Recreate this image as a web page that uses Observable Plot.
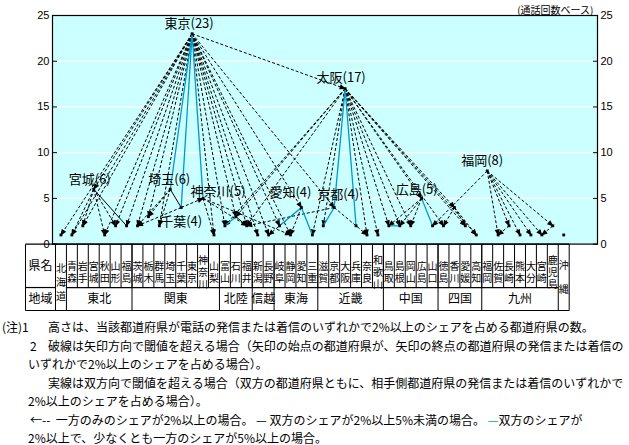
<!DOCTYPE html>
<html><head><meta charset="utf-8">
<script src="https://cdn.jsdelivr.net/npm/d3@7"></script>
<script src="https://cdn.jsdelivr.net/npm/@observablehq/plot@0.6"></script>
<style>
body{margin:0;background:#fff;font-family:"Noto Sans CJK JP",sans-serif;}
#wrap{position:relative;width:629px;height:445px;overflow:hidden;}
#chart{position:absolute;left:0;top:0;}
.note{position:absolute;font-size:12px;white-space:nowrap;line-height:14px;color:#000;}
</style></head>
<body><div id="wrap"><div id="chart"></div>
<div class="note" style="left:2px;top:320px">(注)1</div>
<div class="note" style="left:48px;top:320px">高さは、当該都道府県が電話の発信または着信のいずれかで2%以上のシェアを占める都道府県の数。</div>
<div class="note" style="left:30px;top:339px">2</div>
<div class="note" style="left:48px;top:339px">破線は矢印方向で閾値を超える場合（矢印の始点の都道府県が、矢印の終点の都道府県の発信または着信の</div>
<div class="note" style="left:28px;top:357px">いずれかで2%以上のシェアを占める場合）。</div>
<div class="note" style="left:48px;top:376px">実線は双方向で閾値を超える場合（双方の都道府県ともに、相手側都道府県の発信または着信のいずれかで</div>
<div class="note" style="left:28px;top:394px">2%以上のシェアを占める場合）。</div>
<div class="note" style="left:30px;top:413px">←-- &nbsp;一方のみのシェアが2%以上の場合。 <span>—</span> 双方のシェアが2%以上5%未満の場合。 <span style="color:#0099cc">—</span>双方のシェアが</div>
<div class="note" style="left:28px;top:431px">2%以上で、少なくとも一方のシェアが5%以上の場合。</div>
</div>
<script>
// ---- data ----
const prefs = ["北海道","青森","岩手","宮城","秋田","山形","福島","茨城","栃木","群馬","埼玉","千葉","東京","神奈川","山梨","富山","石川","福井","新潟","長野","岐阜","静岡","愛知","三重","滋賀","京都","大阪","兵庫","奈良","和歌山","鳥取","島根","岡山","広島","山口","徳島","香川","愛媛","高知","福岡","佐賀","長崎","熊本","大分","宮崎","鹿児島","沖縄"];
const heights = [1,1,2,6,1,2,2,2,3,2,6,4,23,5,1,2,3,2,1,1,2,1,4,1,2,4,17,2,1,1,2,2,2,5,2,2,4,2,1,8,1,2,1,1,1,2,1];
const regionNames = ["東北","関東","北陸","信越","東海","近畿","中国","四国","九州"];
const regionFirst = ["青森","茨城","富山","新潟","岐阜","滋賀","鳥取","徳島","福岡"];
const regionLast  = ["福島","山梨","福井","長野","三重","和歌山","山口","高知","鹿児島"];
const mergedPrefs = ["北海道","沖縄"];
const labelNames = ["東京","太阪","福岡","宮城","埼玉","神奈川","千葉","愛知","京都","広島"];
const labelPrefs = ["東京","大阪","福岡","宮城","埼玉","神奈川","千葉","愛知","京都","広島"];
const yTicks = [0,5,10,15,20,25];
// dashed: one-way arrows [from, to]
const dashedEdges = [
 ["東京","北海道"],["東京","青森"],["東京","岩手"],["東京","宮城"],["東京","秋田"],["東京","山形"],["東京","福島"],["東京","茨城"],["東京","栃木"],["東京","群馬"],
 ["東京","山梨"],["東京","富山"],["東京","石川"],["東京","福井"],["東京","新潟"],["東京","長野"],["東京","岐阜"],["東京","静岡"],["東京","愛知"],["東京","京都"],["東京","大阪"],
 ["宮城","青森"],["宮城","岩手"],["宮城","秋田"],["宮城","山形"],
 ["埼玉","茨城"],["埼玉","栃木"],["埼玉","群馬"],["千葉","茨城"],["千葉","神奈川"],
 ["神奈川","山梨"],["神奈川","福井"],["神奈川","静岡"],
 ["愛知","長野"],["愛知","静岡"],["京都","奈良"],["京都","福井"],
 ["大阪","富山"],["大阪","石川"],["大阪","福井"],["大阪","滋賀"],["大阪","奈良"],["大阪","和歌山"],["大阪","三重"],["大阪","鳥取"],["大阪","島根"],["大阪","岡山"],["大阪","広島"],["大阪","徳島"],["大阪","香川"],["大阪","愛媛"],["大阪","高知"],
 ["広島","鳥取"],["広島","島根"],["広島","岡山"],["香川","徳島"],["香川","愛媛"],["香川","高知"],
 ["福岡","山口"],["福岡","佐賀"],["福岡","長崎"],["福岡","熊本"],["福岡","大分"],["福岡","宮崎"],["福岡","鹿児島"],
 ["長崎","佐賀"],["鹿児島","宮崎"]
];
const solidEdges = [["宮城","福島"],["埼玉","千葉"],["石川","福井"]];
const blueEdges = [["東京","埼玉"],["東京","千葉"],["東京","神奈川"],["富山","石川"],["岐阜","愛知"],["愛知","三重"],["大阪","京都"],["京都","滋賀"],["大阪","兵庫"],["鳥取","島根"],["広島","山口"]];

// ---- derived tables ----
const idx = new Map(prefs.map((p,i)=>[p,i]));
const nodes = prefs.map((p,i)=>({name:p,i,h:heights[i]}));
const edgeRows = list => list.map(([a,b])=>({x1:idx.get(a),y1:heights[idx.get(a)],x2:idx.get(b),y2:heights[idx.get(b)]}));
const N = prefs.length;
const L = -3.245;             // left edge of the 県名 column (index units)
const R1 = -4.75, R2 = -7.26; // table row boundaries (value units)
const e = i => i - 0.5;

function arrowHead(color){
  const ns="http://www.w3.org/2000/svg";
  const m=document.createElementNS(ns,"marker");
  m.setAttribute("viewBox","-6 -3 7 6");
  m.setAttribute("markerWidth",7);m.setAttribute("markerHeight",6);
  m.setAttribute("markerUnits","userSpaceOnUse");
  m.setAttribute("orient","auto");m.setAttribute("refX",0);m.setAttribute("refY",0);
  const p=document.createElementNS(ns,"path");
  p.setAttribute("d","M-5.5,-2.6L1,0L-5.5,2.6Z");
  p.setAttribute("fill",color);p.setAttribute("stroke","none");p.setAttribute("stroke-dasharray","none");
  m.appendChild(p);return m;
}

// table geometry from the prefecture / region lists
const hLines = [
  {x1:L,x2:e(N),y:0},{x1:L,x2:e(N),y:R2},
  {x1:L,x2:e(0),y:R1},{x1:e(1),x2:e(N-1),y:R1}
];
const fullV = [L,e(0),e(1)].concat(regionLast.map(p=>e(idx.get(p)+1)),[e(N)]);
const vLines = fullV.map(x=>({x,y1:0,y2:R2}))
  .concat(d3.range(2,N-1).map(i=>({x:e(i),y1:0,y2:R1})));
const nameCells = nodes.map(d=>({i:d.i,t:d.name,y:mergedPrefs.includes(d.name)?R2/2:R1/2}));
const regionText = regionNames.map((r,k)=>({x:(idx.get(regionFirst[k])+idx.get(regionLast[k]))/2,t:r}));
const labels = labelNames.map((n,k)=>{const i=idx.get(labelPrefs[k]);return {key:n,t:`${n}(${heights[i]})`,x:i,y:heights[i]};});
const labelOffsets = {"東京":[-3,-10],"太阪":[-4,-11],"福岡":[-5,-10],"宮城":[-4,-9],"埼玉":[-1,-9],"神奈川":[15,-7],"千葉":[0,14],"愛知":[-11,-15],"京都":[4,-13],"広島":[-5,-9]};

const font = "Noto Sans CJK JP";
const marks = [
  Plot.frame({fill:"#ccffff"}),
  Plot.ruleY([5,10,15,20],{stroke:"white",strokeWidth:1.2}),
  Plot.link(edgeRows(dashedEdges),{x1:"x1",y1:"y1",x2:"x2",y2:"y2",stroke:"black",strokeWidth:1,strokeDasharray:"3,2",markerEnd:arrowHead}),
  Plot.link(edgeRows(solidEdges),{x1:"x1",y1:"y1",x2:"x2",y2:"y2",stroke:"black",strokeWidth:1}),
  Plot.link(edgeRows(blueEdges),{x1:"x1",y1:"y1",x2:"x2",y2:"y2",stroke:"#0099cc",strokeWidth:1.3}),
  Plot.dot(nodes,{x:"i",y:"h",symbol:"square",r:1.6,fill:"black",stroke:"none"}),
  Plot.frame({stroke:"black",strokeWidth:1.2}),
  Plot.axisY(yTicks,{anchor:"left",tickSize:-5,tickPadding:8,fontSize:11,fontFamily:"Liberation Sans",label:null}),
  Plot.axisY(yTicks,{anchor:"right",tickSize:-5,tickPadding:8,fontSize:11,fontFamily:"Liberation Sans",label:null}),
  Plot.text(["(通話回数ベース)"],{frameAnchor:"top-right",dy:-9,dx:-4,fontSize:10,fontFamily:font}),
  // table
  Plot.link(hLines,{x1:"x1",x2:"x2",y1:"y",y2:"y",stroke:"black",strokeWidth:1.2}),
  Plot.link(vLines,{x1:"x",x2:"x",y1:"y1",y2:"y2",stroke:"black",strokeWidth:1}),
  Plot.text(nameCells,{x:"i",y:"y",text:"t",fontSize:10,fontFamily:font,lineAnchor:"top"}),
  Plot.text(regionText,{x:"x",y:(R1+R2)/2,text:"t",fontSize:12,fontFamily:font}),
  Plot.text(["県名"],{x:(L+e(0))/2,y:R1/2,fontSize:12,fontFamily:font}),
  Plot.text(["地域"],{x:(L+e(0))/2,y:(R1+R2)/2,fontSize:12,fontFamily:font})
];
for (const d of labels){
  const [dx,dy]=labelOffsets[d.key];
  marks.push(Plot.text([d],{x:"x",y:"y",text:"t",dx,dy,fontSize:13,fontFamily:font,fill:"black"}));
}
const chart = Plot.plot({
  width:629,height:315,
  marginLeft:52,marginRight:32,marginTop:15,marginBottom:71.4,
  x:{type:"linear",domain:[-0.774,49.09],axis:null},
  y:{domain:[0,25],axis:null},
  style:{background:"transparent",overflow:"visible"},
  marks
});
// prefecture names in the table are written vertically (縦書き)
const nameSet = new Set(prefs);
chart.querySelectorAll("text").forEach(t=>{
  if (!nameSet.has(t.textContent)) return;
  const merged = mergedPrefs.includes(t.textContent);
  t.style.writingMode = "vertical-rl";
  t.style.textOrientation = "upright";
  t.style.letterSpacing = merged ? (t.textContent.length === 2 ? "14px" : "4px") : "1.6px";
  t.removeAttribute("dy");
  t.setAttribute("text-anchor","middle");
});
document.getElementById("chart").appendChild(chart);
</script></body></html>
